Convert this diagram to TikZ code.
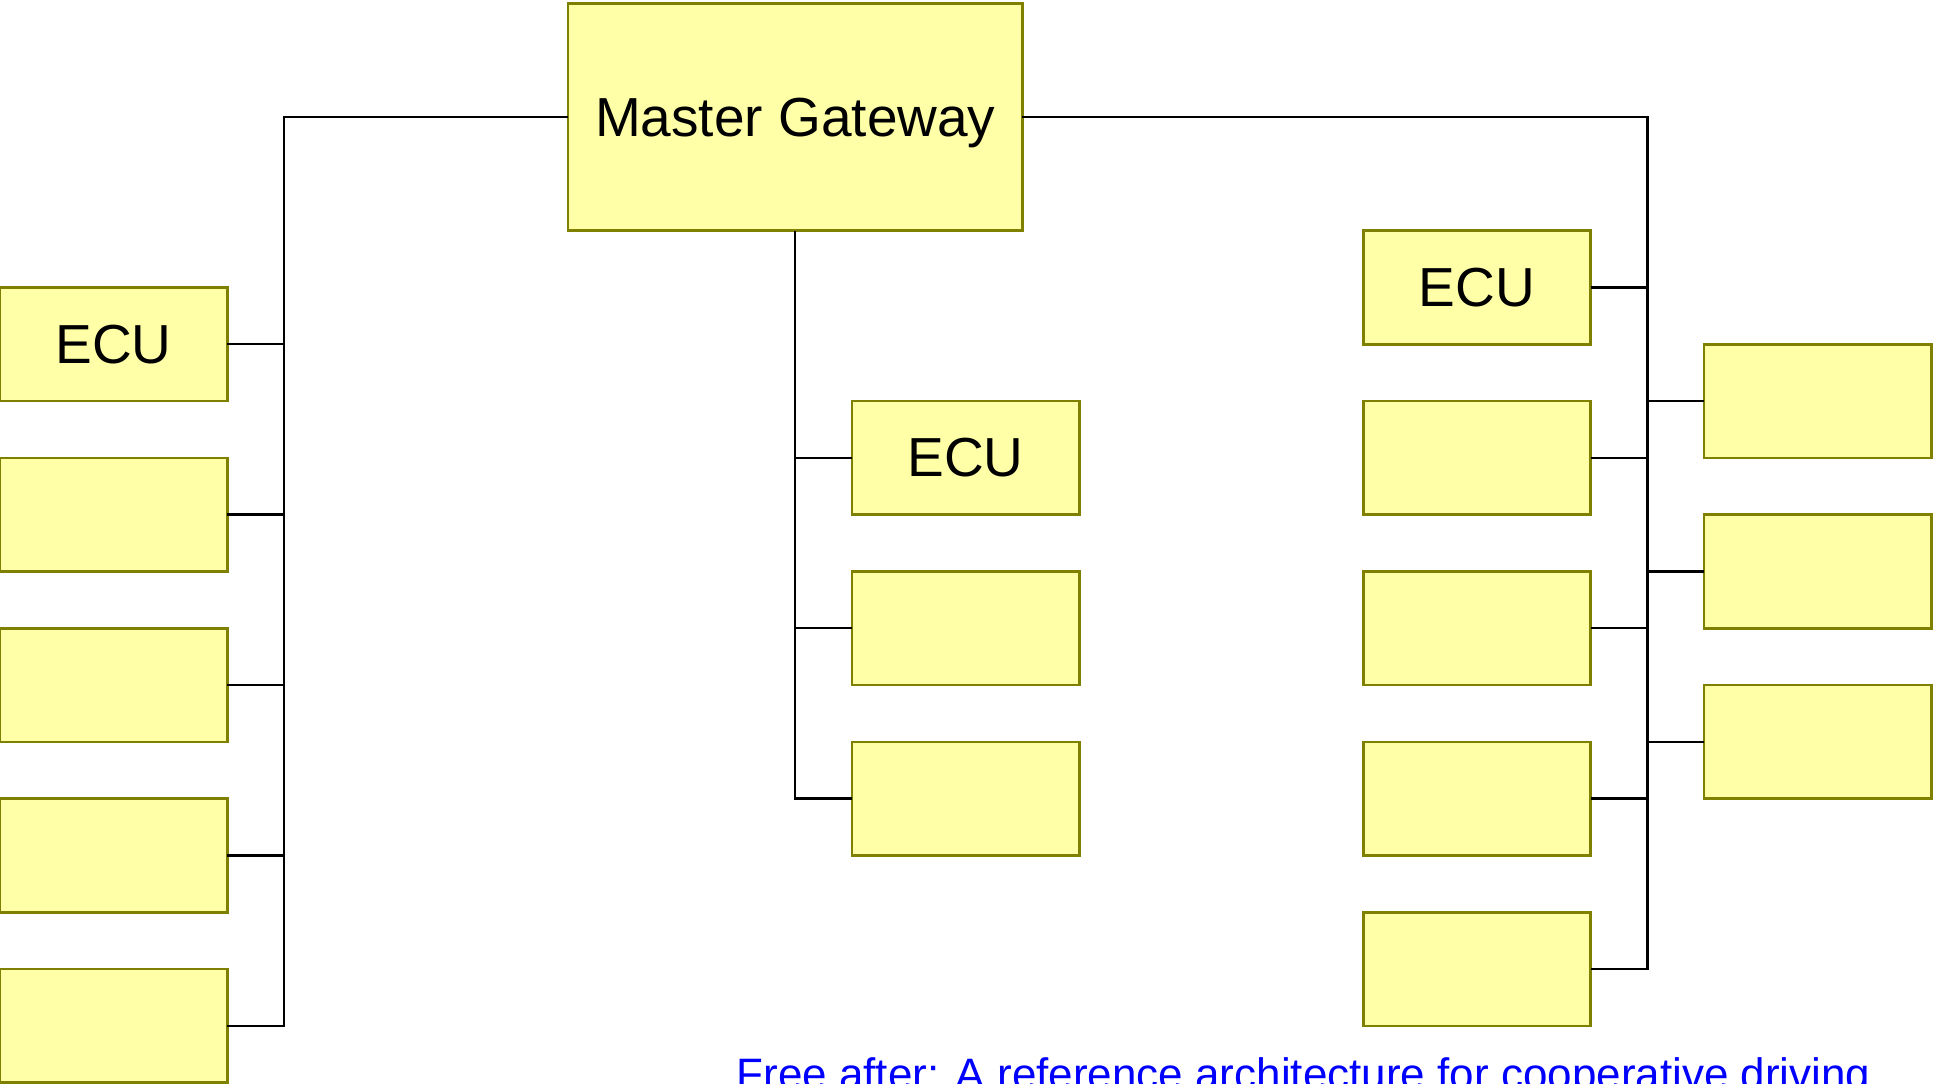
\documentclass[tikz,border=0pt]{standalone}
\usepackage{fontspec}
\setmainfont{Liberation Sans}
\usetikzlibrary{positioning}
\definecolor{ecufill}{HTML}{FFFFA8}
\definecolor{eculine}{HTML}{808000}
\definecolor{notecol}{HTML}{0000FF}

\begin{document}
\begin{tikzpicture}[x=28.4pt, y=-28.4pt, node distance=28.4pt,
    ecu/.style={draw=eculine, line width=1.3pt, fill=ecufill, rectangle,
      minimum width=113.6pt, minimum height=56.8pt, inner sep=0pt, outer sep=0pt,
      font=\fontsize{27.5}{30}\selectfont},
    gw/.style={ecu, minimum width=227.2pt, minimum height=113.6pt, text depth=0pt},
    bus/.style={line width=1.2pt}]
    \useasboundingbox (0,0) rectangle (34.03,19.07);
    % Nodes
    \node [gw] (gateway) at (14,2.06) {Master Gateway};

    \node [ecu] (l1) at (2,6.06) {ECU};
    \node [ecu, below=of l1] (l2) {};
    \node [ecu, below=of l2] (l3) {};
    \node [ecu, below=of l3] (l4) {};
    \node [ecu, below=of l4] (l5) {};

    \node [ecu] (m1) at (17,8.06) {ECU};
    \node [ecu, below=of m1] (m2) {};
    \node [ecu, below=of m2] (m3) {};

    \node [ecu] (r1) at (26,5.06) {ECU};
    \node [ecu, below=of r1] (r2) {};
    \node [ecu, below=of r2] (r3) {};
    \node [ecu, below=of r3] (r4) {};
    \node [ecu, below=of r4] (r5) {};

    \node [ecu] (s1) at (32,7.06) {};
    \node [ecu, below=of s1] (s2) {};
    \node [ecu, below=of s2] (s3) {};

    \node [anchor=base west, inner sep=0pt, text=notecol,
      font=\fontsize{22}{26}\selectfont] (note) at (12.96,19.18)
      {Free after: A reference architecture for cooperative driving};

    \coordinate (lbus) at (5,2.06);
    \coordinate (rbus) at (29,2.06);
    % Buses
    \draw [bus] (gateway.west) -- (lbus) |- (l5.east);
    \foreach \n in {1,...,4}
      \draw [bus] (l\n.east) -- (l\n.east -| lbus);

    \draw [bus] (gateway.south) |- (m3.west);
    \foreach \n in {1,2}
      \draw [bus] (m\n.west) -- (m\n.west -| gateway.south);

    \draw [bus] (gateway.east) -- (rbus) |- (r5.east);
    \foreach \n in {1,...,4}
      \draw [bus] (r\n.east) -- (r\n.east -| rbus);
    \foreach \n in {1,2,3}
      \draw [bus] (s\n.west) -- (s\n.west -| rbus);
  \end{tikzpicture}
\end{document}
